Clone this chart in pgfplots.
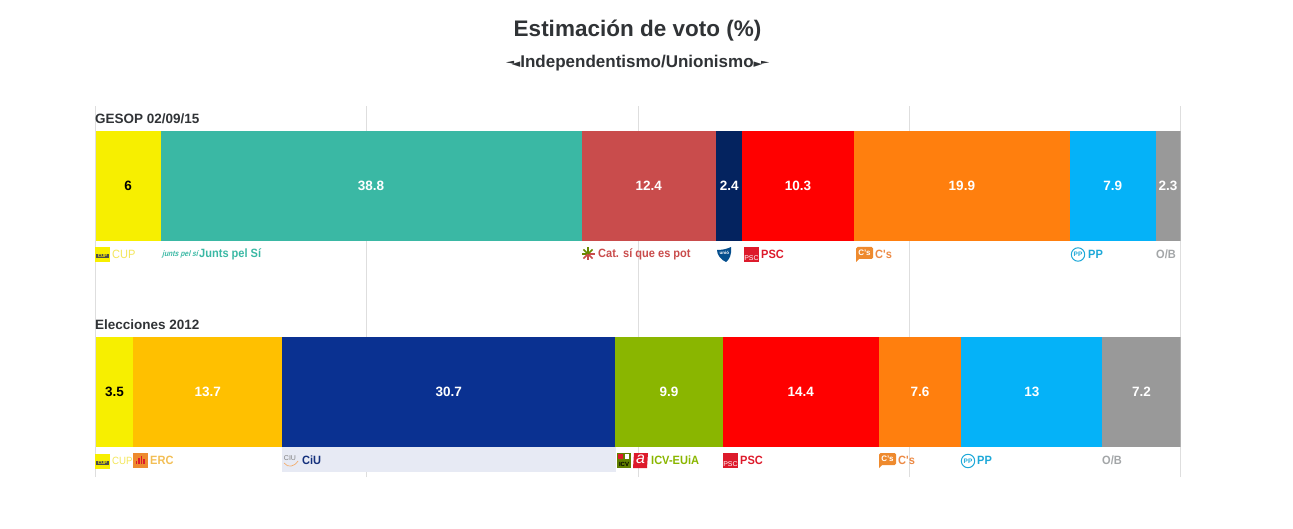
\documentclass[border=0pt]{standalone}
\usepackage{fontspec}
\setmainfont{Liberation Sans}
\newfontfamily\symfont{DejaVu Sans}
\newfontface\labfont[FakeStretch=0.92]{Liberation Sans Bold}
\newfontface\labreg[FakeStretch=0.92]{Liberation Sans}
\newfontface\jxsfont[FakeStretch=0.85, FakeSlant=0.25]{Liberation Sans Bold}
\usepackage{pgfplots}
\pgfplotsset{compat=1.18}
\definecolor{ccup}{HTML}{F7EF00}
\definecolor{cjxs}{HTML}{3AB8A4}
\definecolor{ccat}{HTML}{C94C4C}
\definecolor{cuni}{HTML}{04235F}
\definecolor{cpsc}{HTML}{FF0000}
\definecolor{ccs}{HTML}{FF7F0E}
\definecolor{cpp}{HTML}{05B2F8}
\definecolor{cob}{HTML}{999999}
\definecolor{cerc}{HTML}{FFC000}
\definecolor{cciu}{HTML}{0A3191}
\definecolor{cicv}{HTML}{8AB600}
\definecolor{ink}{HTML}{303336}
\definecolor{gridc}{HTML}{DEDEDE}
\definecolor{tcup}{HTML}{F3E65A}
\definecolor{tpsc}{HTML}{DD1A2B}
\definecolor{tcs}{HTML}{EC8A45}
\definecolor{tpp}{HTML}{1DA8D8}
\definecolor{tob}{HTML}{A3A6A8}
\definecolor{terc}{HTML}{F2BE55}
\definecolor{tciu}{HTML}{14307C}
\definecolor{logoorange}{HTML}{EE8A2E}

\pgfplotsset{
  rowaxis/.style={
    scale only axis, width=1085pt, height=371pt,
    xmin=0, xmax=100, ymin=0, ymax=371,
    xbar stacked, bar width=110pt,
    axis line style={draw=none},
    major tick length=0pt,
    xtick={0,25,50,75,100}, xticklabels={}, ytick=\empty,
    nodes near coords,
    every node near coord/.append style={
      font=\fontsize{13.5}{14}\selectfont\bfseries, text=white},
    /pgf/number format/.cd, fixed, precision=1, assume math mode=true,
  },
  seg/.style={fill=#1, draw=none},
  darktext/.style={every node near coord/.append style={text=black}},
}
\tikzset{
  lab/.style={anchor=west, inner sep=0pt, font=\fontsize{12}{13}\labfont},
  labr/.style={anchor=west, inner sep=0pt, font=\fontsize{12}{13}\labreg},
}
% small party logos, drawn at image pixels
\newcommand\psclogo[2]{%
  \fill[tpsc] (#1,#2) rectangle ++(15,15);
  \node[inner sep=0pt, text=white, font=\fontsize{7}{7}\selectfont] at (#1+7.5,#2+10.8) {PSC};}
\newcommand\cuplogo[2]{%
  \fill[ccup] (#1,#2) rectangle ++(15,15);
  \fill[black!70] (#1+1,#2+7) rectangle ++(13,4);
  \node[inner sep=0pt, text=ccup, font=\fontsize{4.5}{5}\selectfont\bfseries] at (#1+7.5,#2+9) {CUP};}
\newcommand\cslogo[2]{%
  \fill[logoorange, rounded corners=1.5pt] (#1,#2) rectangle ++(17,12);
  \fill[logoorange] (#1,#2+10) -- (#1+4,#2+11) -- (#1,#2+15) -- cycle;
  \node[inner sep=0pt, text=white, font=\fontsize{8}{8}\selectfont\bfseries] at (#1+8.5,#2+5.8) {C's};}
\newcommand\pplogo[2]{%
  \draw[tpp, line width=1pt] (#1,#2) circle (6.7);
  \node[inner sep=0pt, text=tpp, font=\fontsize{6.5}{7}\selectfont\bfseries] at (#1,#2) {PP};}

\begin{document}
\begin{tikzpicture}[x=1pt, y=-1pt]
\path[use as bounding box] (0,0) rectangle (1293,529);

% first row, holds the grid
\begin{axis}[rowaxis, at={(95.5pt,-477pt)}, anchor=south west,
    xmajorgrids, grid style={gridc, line width=0.8pt}]
  \addplot[seg=ccup, darktext] coordinates {(6,291)};
  \addplot[seg=cjxs] coordinates {(38.8,291)};
  \addplot[seg=ccat] coordinates {(12.4,291)};
  \addplot[seg=cuni] coordinates {(2.4,291)};
  \addplot[seg=cpsc] coordinates {(10.3,291)};
  \addplot[seg=ccs] coordinates {(19.9,291)};
  \addplot[seg=cpp] coordinates {(7.9,291)};
  \addplot[seg=cob] coordinates {(2.3,291)};
\end{axis}

% strip behind the CiU label
\fill[cciu!10] (282,447) rectangle (616,472);

% second row
\begin{axis}[rowaxis, at={(95.5pt,-477pt)}, anchor=south west]
  \addplot[seg=ccup, darktext] coordinates {(3.5,85)};
  \addplot[seg=cerc] coordinates {(13.7,85)};
  \addplot[seg=cciu] coordinates {(30.7,85)};
  \addplot[seg=cicv] coordinates {(9.9,85)};
  \addplot[seg=cpsc] coordinates {(14.4,85)};
  \addplot[seg=ccs] coordinates {(7.6,85)};
  \addplot[seg=cpp] coordinates {(13,85)};
  \addplot[seg=cob] coordinates {(7.2,85)};
\end{axis}

% titles
\node[text=ink, inner sep=0pt, font=\fontsize{22.5}{24}\selectfont\bfseries] at (637.5,31) {Estimación de voto (\%)};
\node[text=ink, inner sep=0pt, font=\fontsize{17}{18}\selectfont\bfseries] at (637,63)
  {{\symfont\fontsize{11}{12}\selectfont ◄}Independentismo/Unionismo{\symfont\fontsize{11}{12}\selectfont ►}};
\fill[ink] (506,62.3) -- (514,60.8) -- (514,63.8) -- cycle;
\fill[ink] (769,62.3) -- (761,60.8) -- (761,63.8) -- cycle;
\node[lab, text=ink, font=\fontsize{13.5}{14}\selectfont\bfseries] at (95,118.5) {GESOP 02/09/15};
\node[lab, text=ink, font=\fontsize{13.5}{14}\selectfont\bfseries] at (95,324.5) {Elecciones 2012};

% labels under first row
\cuplogo{95}{247}
\node[labr, text=tcup] at (112,254.5) {CUP};
\node[inner sep=0pt, anchor=west, text=cjxs, font=\fontsize{8}{9}\jxsfont] at (162,254) {junts pel sí};
\node[lab, text=cjxs] at (199,254.5) {Junts pel Sí};
\foreach \a in {0,45,90,135} {
  \draw[line width=1.5pt, color=ccat] (588,254) -- ++(\a:6.5);
  \draw[line width=1.5pt, color=cicv!75!black] (588,254) -- ++(\a+180:6.5);
}
\node[lab, text=ccat] at (598,254.5) {Cat. sí que es pot};
\fill[cuni!70!cpp] (717,250) .. controls (722,250) and (727,249) .. (731,247)
  .. controls (732,255) and (729,260) .. (726,262) .. controls (721,260) and (717,255) .. (717,250) -- cycle;
\node[inner sep=0pt, text=white, font=\fontsize{4.5}{5}\selectfont\bfseries] at (724.3,253) {unió};
\psclogo{744}{247}
\node[lab, text=tpsc] at (761,254.5) {PSC};
\cslogo{856}{247}
\node[lab, text=tcs] at (875,254.5) {C's};
\pplogo{1078}{254.5}
\node[lab, text=tpp] at (1088,254.5) {PP};
\node[lab, text=tob] at (1156,254.5) {O/B};

% labels under second row
\cuplogo{95}{454}
\node[labr, text=tcup, font=\fontsize{10.5}{12}\labreg] at (112,460.5) {CUP};
\fill[logoorange] (133,453) rectangle ++(15,15);
\foreach \i/\h in {0/3,1/6,2/8,3/5} \fill[tpsc] (136+2.4*\i,464) rectangle ++(1.4,-\h);
\node[lab, text=terc] at (150,460.5) {ERC};
\node[inner sep=0pt, text=gray, font=\fontsize{7}{7}\selectfont] at (290,458) {CIU};
\draw[logoorange!70, line width=0.7pt] (284,463) .. controls (288,468) and (294,467) .. (298,461);
\node[lab, text=tciu] at (302,460.5) {CiU};
% ICV and EUiA
\fill[cicv!70!black] (617,453) rectangle ++(14,15);
\fill[tpsc] (618,454) rectangle ++(5,5);
\fill[white] (625,454) rectangle ++(4,5);
\node[inner sep=0pt, text=black, font=\fontsize{6}{6}\selectfont\bfseries] at (624,464) {ICV};
\fill[tpsc] (634,453) -- (648,453) -- (647,468) -- (633,468) -- cycle;
\node[inner sep=0pt, text=white, font=\fontsize{16}{16}\selectfont\itshape] at (640.5,459.5) {a};
\node[lab, text=cicv] at (651,460.5) {ICV-EUiA};
\psclogo{723}{453}
\node[lab, text=tpsc] at (740,460.5) {PSC};
\cslogo{879}{453}
\node[lab, text=tcs] at (898,460.5) {C's};
\pplogo{968}{461}
\node[lab, text=tpp] at (977,460.5) {PP};
\node[lab, text=tob] at (1102,460.5) {O/B};
\end{tikzpicture}
\end{document}
